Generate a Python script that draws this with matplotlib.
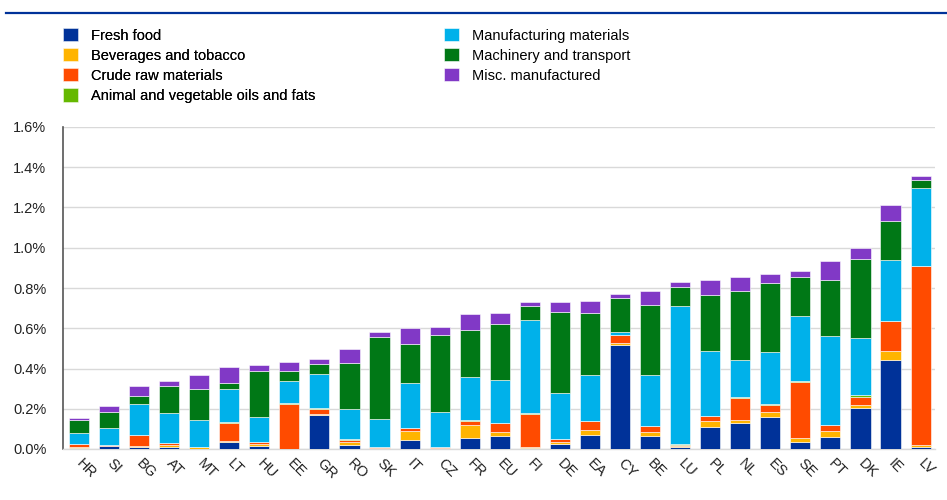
import matplotlib
matplotlib.use("Agg")
import matplotlib.pyplot as plt
import numpy as np
from matplotlib.lines import Line2D
from matplotlib.ticker import FuncFormatter

plt.rcParams["font.family"] = ["Liberation Sans", "DejaVu Sans"]

countries = ["HR", "SI", "BG", "AT", "MT", "LT", "HU", "EE", "GR", "RO", "SK", "IT",
             "CZ", "FR", "EU", "FI", "DE", "EA", "CY", "BE", "LU", "PL", "NL", "ES",
             "SE", "PT", "DK", "IE", "LV"]

fresh_food = [0.003, 0.015, 0.012, 0.008, 0.002, 0.033, 0.017, 0.000, 0.168, 0.020,
              0.001, 0.045, 0.002, 0.057, 0.064, 0.007, 0.023, 0.071, 0.517, 0.066,
              0.012, 0.107, 0.127, 0.158, 0.036, 0.058, 0.204, 0.444, 0.011]
beverages = [0.006, 0.002, 0.004, 0.013, 0.007, 0.007, 0.006, 0.000, 0.007, 0.013,
             0.002, 0.045, 0.002, 0.063, 0.020, 0.002, 0.010, 0.025, 0.010, 0.018,
             0.001, 0.031, 0.018, 0.026, 0.020, 0.031, 0.013, 0.044, 0.008]
crude = [0.014, 0.003, 0.052, 0.008, 0.001, 0.089, 0.010, 0.226, 0.026, 0.013,
         0.005, 0.012, 0.008, 0.021, 0.043, 0.167, 0.015, 0.041, 0.038, 0.030,
         0.008, 0.024, 0.106, 0.033, 0.279, 0.029, 0.043, 0.146, 0.888]
oils = [0.002, 0.001, 0.002, 0.002, 0.000, 0.003, 0.002, 0.002, 0.002, 0.003,
        0.002, 0.002, 0.000, 0.003, 0.002, 0.002, 0.002, 0.002, 0.001, 0.002,
        0.002, 0.003, 0.007, 0.005, 0.001, 0.002, 0.006, 0.002, 0.002]
manufacturing = [0.056, 0.085, 0.155, 0.146, 0.135, 0.165, 0.125, 0.111, 0.172, 0.151,
                 0.140, 0.222, 0.171, 0.215, 0.213, 0.461, 0.229, 0.228, 0.016, 0.254,
                 0.686, 0.324, 0.185, 0.258, 0.324, 0.441, 0.288, 0.301, 0.386]
machinery = [0.061, 0.076, 0.038, 0.135, 0.153, 0.030, 0.230, 0.049, 0.045, 0.225,
             0.409, 0.196, 0.381, 0.233, 0.281, 0.074, 0.404, 0.307, 0.167, 0.346,
             0.096, 0.278, 0.344, 0.347, 0.195, 0.279, 0.389, 0.197, 0.040]
misc = [0.013, 0.030, 0.051, 0.027, 0.071, 0.078, 0.028, 0.043, 0.026, 0.072,
        0.024, 0.081, 0.044, 0.077, 0.053, 0.015, 0.046, 0.060, 0.021, 0.067,
        0.025, 0.073, 0.068, 0.045, 0.029, 0.096, 0.058, 0.076, 0.023]

series = [
    ("Fresh food", fresh_food, "#003299"),
    ("Beverages and tobacco", beverages, "#FFB400"),
    ("Crude raw materials", crude, "#FF4B00"),
    ("Animal and vegetable oils and fats", oils, "#65B800"),
    ("Manufacturing materials", manufacturing, "#00B1EA"),
    ("Machinery and transport", machinery, "#007816"),
    ("Misc. manufactured", misc, "#8139C6"),
]

fig = plt.figure(figsize=(9.47, 5.0), dpi=100)
ax = fig.add_axes([63 / 947, 51 / 500, 872 / 947, 322 / 500])

# dark blue rule across the top of the figure
fig.add_artist(Line2D([6 / 947, 1.0], [1 - 12.7 / 500] * 2, color="#003299",
                      linewidth=1.6, transform=fig.transFigure))

x = np.arange(len(countries))
bottom = np.zeros(len(countries))
handles = []
for name, vals, col in series:
    vals = np.array(vals)
    b = ax.bar(x, vals, 0.67, bottom=bottom, color=col, edgecolor="white",
               linewidth=0.4, label=name, zorder=3)
    handles.append(b)
    bottom += vals

ax.set_xlim(-0.53, len(countries) - 0.52)
ax.set_ylim(0, 1.6)
ax.set_yticks(np.arange(0, 1.61, 0.2))
ax.yaxis.set_major_formatter(FuncFormatter(lambda v, p: f"{v:.1f}%"))
ax.grid(axis="y", color="#d9d9d9", linewidth=1, zorder=0)

for s in ["top", "right"]:
    ax.spines[s].set_visible(False)
ax.spines["left"].set_color("#555555")
ax.spines["left"].set_linewidth(1.2)
ax.spines["bottom"].set_color("#d9d9d9")
ax.spines["bottom"].set_linewidth(1)

ax.tick_params(axis="both", length=0, labelsize=10.5, colors="#222222")
ax.tick_params(axis="y", pad=12)
ax.set_xticks(x)
ax.set_xticklabels(countries, rotation=-45, ha="left", va="center",
                   rotation_mode="anchor")
ax.tick_params(axis="x", pad=9)

# two-column legend above the plot
leg_kw = dict(loc="upper left", frameon=False, fontsize=10.5, handlelength=1.0,
              handleheight=1.0, handletextpad=0.9, labelspacing=0.38, borderpad=0)
leg1 = fig.legend(handles[:4], [s[0] for s in series[:4]],
                  bbox_to_anchor=(56 / 947, 1 - 21 / 500), **leg_kw)
leg2 = fig.legend(handles[4:], [s[0] for s in series[4:]],
                  bbox_to_anchor=(437 / 947, 1 - 21 / 500), **leg_kw)
fig.add_artist(leg1)

fig.savefig("out.png", dpi=100)
